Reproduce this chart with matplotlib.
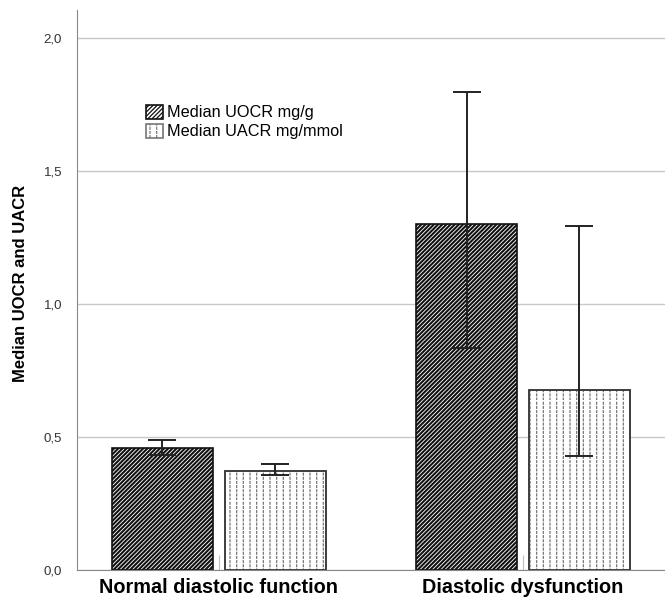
import matplotlib
matplotlib.use("Agg")
import matplotlib.pyplot as plt
import matplotlib.hatch as mhatch
from matplotlib.path import Path
import numpy as np

plt.rcParams['font.family'] = ['Liberation Sans', 'DejaVu Sans']


# dotted vertical lines (SPSS style) instead of the solid '|' hatch
class DottedVertical(mhatch.HatchPatternBase):
    def __init__(self, hatch, density):
        n = hatch.count('|')
        self.ncols = 15 if n else 0
        self.nrows = 24
        self.num_vertices = self.ncols * self.nrows * 2

    def set_vertices_and_codes(self, vertices, codes):
        xs = (np.arange(self.ncols) + 0.5) / self.ncols
        ys = np.arange(self.nrows) / self.nrows
        X, Y = np.meshgrid(xs, ys)
        X = X.ravel()
        Y = Y.ravel()
        vertices[0::2, 0] = X
        vertices[0::2, 1] = Y
        vertices[1::2, 0] = X
        vertices[1::2, 1] = Y + 0.018
        codes[0::2] = Path.MOVETO
        codes[1::2] = Path.LINETO


mhatch._hatch_types = [DottedVertical if t is mhatch.VerticalHatch else t
                       for t in mhatch._hatch_types]

groups = ['Normal diastolic function', 'Diastolic dysfunction']
uocr = [0.46, 1.30]
uocr_lo = [0.432, 0.835]
uocr_hi = [0.488, 1.795]
uacr = [0.373, 0.678]
uacr_lo = [0.357, 0.430]
uacr_hi = [0.398, 1.292]
yticks = [0.0, 0.5, 1.0, 1.5, 2.0]
ytick_labels = ['0,0', '0,5', '1,0', '1,5', '2,0']

x = np.arange(len(groups))
w = 0.332
off = 0.1855

fig = plt.figure(figsize=(6.65, 6.0), dpi=100)
ax = fig.add_axes([0.1158, 0.05, 0.884, 0.9333])

ax.set_axisbelow(True)
ax.yaxis.grid(True, color='#c8c8c8', linewidth=1)


def set_hlw(bars, lw):
    for p in bars:
        if hasattr(p, 'set_hatch_linewidth'):
            p.set_hatch_linewidth(lw)


plt.rcParams['hatch.linewidth'] = 1.5
b1 = ax.bar(x - off, uocr, w, facecolor='white', edgecolor='#111111',
            hatch='////////', linewidth=1.2, label='Median UOCR mg/g')
set_hlw(b1, 1.5)
plt.rcParams['hatch.linewidth'] = 0.9
b2 = ax.bar(x + off, uacr, w, facecolor='white', edgecolor='#777777',
            hatch='|', linewidth=1.2, label='Median UACR mg/mmol')
set_hlw(b2, 0.9)
# dark outline for the dotted bars
ax.bar(x + off, uacr, w, facecolor='none', edgecolor='#333333', linewidth=1.2)

e1 = [np.array(uocr) - np.array(uocr_lo), np.array(uocr_hi) - np.array(uocr)]
e2 = [np.array(uacr) - np.array(uacr_lo), np.array(uacr_hi) - np.array(uacr)]
ax.errorbar(x - off, uocr, yerr=e1, fmt='none', ecolor='#222222', elinewidth=1.4,
            capsize=10, capthick=1.4)
ax.errorbar(x + off, uacr, yerr=e2, fmt='none', ecolor='#222222', elinewidth=1.4,
            capsize=10, capthick=1.4)

ax.set_xlim(-0.465, 1.466)
ax.set_ylim(0, 2.105)
ax.set_yticks(yticks)
ax.set_yticklabels(ytick_labels, fontsize=9.5, color='#333333')
ax.set_xticks(x)
ax.set_xticklabels(groups, fontsize=14.3, fontweight='bold')
ax.tick_params(axis='y', length=0, pad=10.8)
ax.tick_params(axis='x', direction='in', length=11, color='#c0c0c0', pad=6)
ax.set_ylabel('Median UOCR and UACR', fontsize=12, fontweight='bold')
ax.yaxis.set_label_coords(-0.0833, 0.5125)

for s in ['top', 'right']:
    ax.spines[s].set_visible(False)
ax.spines['left'].set_color('#888888')
ax.spines['bottom'].set_color('#888888')

leg = ax.legend(handles=[b1, b2], loc='center left', bbox_to_anchor=(0.117, 0.800),
                frameon=False, fontsize=11.7, handlelength=1.05, handleheight=1.0,
                handletextpad=0.25, labelspacing=0.2, borderaxespad=0,
                borderpad=0)

fig.savefig('out.png', dpi=100)
